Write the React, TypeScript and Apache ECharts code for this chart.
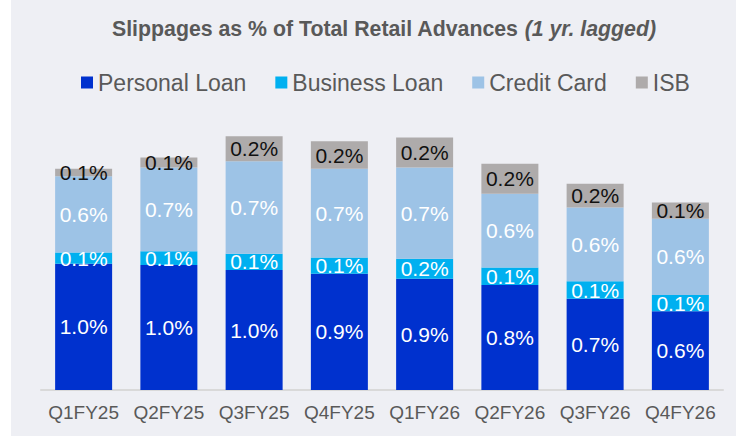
import React, { useEffect, useRef } from "react";
import * as echarts from "echarts";

const categories = ["Q1FY25", "Q2FY25", "Q3FY25", "Q4FY25", "Q1FY26", "Q2FY26", "Q3FY26", "Q4FY26"];
const personalLoan = [1.01, 1.0, 0.96, 0.93, 0.89, 0.84, 0.73, 0.63];
const businessLoan = [0.09, 0.11, 0.13, 0.13, 0.16, 0.14, 0.14, 0.13];
const creditCard = [0.61, 0.67, 0.74, 0.71, 0.73, 0.59, 0.59, 0.61];
const isb = [0.06, 0.08, 0.2, 0.22, 0.24, 0.24, 0.19, 0.13];

const FONT = "'Liberation Sans', Arial, sans-serif";

export default function App() {
  const ref = useRef<HTMLDivElement>(null);
  useEffect(() => {
    document.body.style.margin = "0";
    if (!ref.current) return;
    const chart = echarts.init(ref.current, null, { renderer: "svg" });
    const mk = (name: string, data: number[], color: string, labelColor: string) => ({
      name,
      type: "bar",
      stack: "total",
      data,
      barWidth: 57,
      itemStyle: { color },
      label: {
        show: true,
        position: "inside",
        color: labelColor,
        fontFamily: FONT,
        fontSize: 21,
        formatter: (p: any) => (Math.round(p.value * 10) / 10).toFixed(1) + "%",
      },
    });
    chart.setOption({
      animation: false,
      backgroundColor: "#ffffff",
      textStyle: { fontFamily: FONT },
      graphic: [
        {
          type: "rect",
          z: -10,
          silent: true,
          shape: { x: 11, y: 0, width: 725, height: 436 },
          style: { fill: "#EEEFF4" },
        },
      ],
      title: {
        text: "{b|Slippages as % of Total Retail Advances }{i|(1 yr. lagged)}",
        left: 107,
        top: 13,
        textStyle: {
          rich: {
            b: { fontFamily: FONT, fontSize: 21.3, fontWeight: "bold", color: "#595959" },
            i: { fontFamily: FONT, fontSize: 21.3, fontWeight: "bold", fontStyle: "italic", color: "#595959" },
          },
        },
      },
      legend: {
        left: 76,
        top: 66,
        itemWidth: 12,
        itemHeight: 12,
        itemGap: 29,
        icon: "rect",
        textStyle: { fontFamily: FONT, fontSize: 23, color: "#595959", padding: [0, 0, 0, 0] },
        data: ["Personal Loan", "Business Loan", "Credit Card", "ISB"],
      },
      grid: { left: 41, right: 13, top: 90, bottom: 46 },
      xAxis: {
        type: "category",
        data: categories,
        axisLine: { show: true, lineStyle: { color: "#D9D9D9", width: 2 } },
        axisTick: { show: false },
        axisLabel: { fontFamily: FONT, fontSize: 19, color: "#595959", margin: 13, interval: 0 },
      },
      yAxis: {
        type: "value",
        min: 0,
        max: 2.4,
        show: false,
        splitLine: { show: false },
      },
      series: [
        mk("Personal Loan", personalLoan, "#0031CE", "#ffffff"),
        mk("Business Loan", businessLoan, "#00B0F0", "#ffffff"),
        mk("Credit Card", creditCard, "#9DC3E6", "#ffffff"),
        mk("ISB", isb, "#AEABAB", "#111111"),
      ],
    });
    return () => chart.dispose();
  }, []);
  return <div ref={ref} style={{ width: 736, height: 436 }} />;
}
